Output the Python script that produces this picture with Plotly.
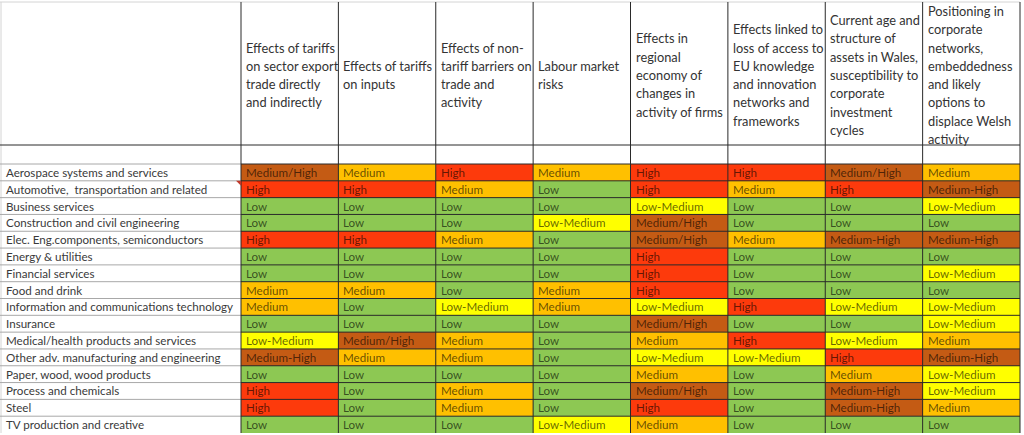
import plotly.graph_objects as go

# ---------------- data ----------------
headers = [
    "Effects of tariffs<br>on sector export<br>trade directly<br>and indirectly",
    "Effects of tariffs<br>on inputs",
    "Effects of non-<br>tariff barriers on<br>trade and<br>activity",
    "Labour market<br>risks",
    "Effects in<br>regional<br>economy of<br>changes in<br>activity of firms",
    "Effects linked to<br>loss of access to<br>EU knowledge<br>and innovation<br>networks and<br>frameworks",
    "Current age and<br>structure of<br>assets in Wales,<br>susceptibility to<br>corporate<br>investment<br>cycles",
    "Positioning in<br>corporate<br>networks,<br>embeddedness<br>and likely<br>options to<br>displace Welsh<br>activity",
]

sectors = [
    "Aerospace systems and services",
    "Automotive,\u00a0 transportation and related",
    "Business services",
    "Construction and civil engineering",
    "Elec. Eng.components, semiconductors",
    "Energy & utilities",
    "Financial services",
    "Food and drink",
    "Information and communications technology",
    "Insurance",
    "Medical/health products and services",
    "Other adv. manufacturing and engineering",
    "Paper, wood, wood products",
    "Process and chemicals",
    "Steel",
    "TV production and creative",
]

tariffs_export = ["Medium/High", "High", "Low", "Low", "High", "Low", "Low", "Medium",
                  "Medium", "Low", "Low-Medium", "Medium-High", "Low", "High", "High", "Low"]
tariffs_inputs = ["Medium", "High", "Low", "Low", "High", "Low", "Low", "Medium",
                  "Low", "Low", "Medium/High", "Medium", "Low", "Low", "Low", "Low"]
non_tariff = ["High", "Medium", "Low", "Low", "Medium", "Low", "Low", "Low",
              "Low-Medium", "Low", "Medium", "Medium", "Low", "Medium", "Medium", "Low"]
labour = ["Medium", "Low", "Low", "Low-Medium", "Low", "Low", "Low", "Medium",
          "Medium", "Low", "Low", "Low", "Low", "Low", "Low", "Low-Medium"]
regional = ["High", "High", "Low-Medium", "Medium/High", "Medium/High", "High", "High", "High",
            "Low-Medium", "Medium/High", "Medium", "Low-Medium", "Medium", "Medium/High", "High", "Medium"]
eu_knowledge = ["High", "Medium", "Low", "Low", "Medium", "Low", "Low", "Low",
                "High", "Low", "High", "Low-Medium", "Low", "Low", "Low", "Low"]
assets = ["Medium/High", "High", "Low", "Low", "Medium-High", "Low", "Low", "Low",
          "Low-Medium", "Low", "Low-Medium", "High", "Medium", "Medium-High", "Medium-High", "Low"]
positioning = ["Medium", "Medium-High", "Low-Medium", "Low", "Medium-High", "Low", "Low-Medium", "Low",
               "Low-Medium", "Low-Medium", "Medium", "Medium-High", "Low-Medium", "Low-Medium", "Medium", "Low"]

ratings = [tariffs_export, tariffs_inputs, non_tariff, labour, regional, eu_knowledge, assets, positioning]

level_of = {"Low": 0, "Low-Medium": 1, "Medium": 2, "Medium/High": 3, "Medium-High": 3, "High": 4}
level_colors = ["#8DC853", "#FFFF00", "#FFC000", "#C45B14", "#FD3A0C"]

# ---------------- layout constants ----------------
W, H = 1024, 435
LABEL_W = 241
RIGHT = 4
HEADER_H = 145
BLANK_H = 19
TOP = HEADER_H + BLANK_H
BOTTOM = 2
PW = W - LABEL_W - RIGHT
PH = H - TOP - BOTTOM
FONT = "Lato, Carlito, Calibri, sans-serif"
DARK = "#2a2a2a"
GRAY = "#a8a8a8"
LIGHT = "#d4d4d4"

nrows, ncols = len(sectors), len(headers)


def py(p):  # pixel y -> paper y
    return (H - BOTTOM - p) / PH


def pxx(p):  # pixel x -> paper x
    return (p - LABEL_W) / PW


z = [[level_of[ratings[j][i]] for j in range(ncols)] for i in range(nrows)]
n = len(level_colors)
colorscale = [[k / (n - 1), c] for k, c in enumerate(level_colors)]

fig = go.Figure(go.Heatmap(
    z=z, x=list(range(ncols)), y=list(range(nrows)),
    colorscale=colorscale, zmin=0, zmax=n - 1, showscale=False,
    hoverinfo="skip", xgap=0, ygap=0,
))

annotations = []
# header text, one annotation per line for Excel-like line spacing
LINE_GAP = 18.3
HEAD_CENTER = 75
for j, htxt in enumerate(headers):
    lines = htxt.split("<br>")
    m = len(lines)
    for k, line in enumerate(lines):
        ypx = HEAD_CENTER - (m - 1) / 2 * LINE_GAP + k * LINE_GAP
        annotations.append(dict(
            text=line, xref="x", x=j - 0.5, xshift=3, xanchor="left",
            yref="paper", y=py(ypx), yanchor="middle", showarrow=False,
            font=dict(family=FONT, size=12.8, color="#333333"), align="left",
        ))

# row labels
for i, s in enumerate(sectors):
    annotations.append(dict(
        text=s, xref="paper", x=pxx(0), xshift=4, xanchor="left",
        yref="y", y=i, yanchor="middle", showarrow=False,
        font=dict(family=FONT, size=11.6, color="#3a3a3a"),
    ))

# cell text
for j in range(ncols):
    for i in range(nrows):
        annotations.append(dict(
            text=ratings[j][i], xref="x", x=j - 0.5, xshift=3, xanchor="left",
            yref="y", y=i, yanchor="middle", showarrow=False,
            font=dict(family=FONT, size=11.6, color="rgba(0,0,0,0.62)"),
        ))

shapes = []
# light outer border (top and left)
shapes.append(dict(type="line", xref="paper", yref="paper", x0=pxx(0), x1=1, y0=py(2), y1=py(2),
                   line=dict(color=LIGHT, width=1)))
shapes.append(dict(type="line", xref="paper", yref="paper", x0=pxx(1), x1=pxx(1), y0=0, y1=py(2),
                   line=dict(color=LIGHT, width=1)))
# horizontal lines in the label column
for i in range(nrows):
    yv = 1 - i / nrows
    shapes.append(dict(type="line", xref="paper", yref="paper", x0=pxx(0), x1=0, y0=yv, y1=yv,
                       line=dict(color=GRAY, width=1)))
# horizontal lines in the data columns
for i in range(nrows):
    yv = 1 - i / nrows
    shapes.append(dict(type="line", xref="paper", yref="paper", x0=0, x1=1, y0=yv, y1=yv,
                       line=dict(color=DARK, width=1)))
# header bottom line
shapes.append(dict(type="line", xref="paper", yref="paper", x0=pxx(0), x1=1,
                   y0=py(HEADER_H), y1=py(HEADER_H), line=dict(color=DARK, width=1)))
# vertical column lines
for j in range(ncols + 1):
    xv = j / ncols
    shapes.append(dict(type="line", xref="paper", yref="paper", x0=xv, x1=xv, y0=0, y1=py(2),
                       line=dict(color=DARK, width=1)))

# small red comment marker in the top-right corner of the "Automotive" label cell
row_top = 1 - 1 / nrows
tri_h = 5 / PH
tri_w = 5 / PW
shapes.append(dict(
    type="path", xref="paper", yref="paper",
    path=f"M {-tri_w} {row_top} L 0 {row_top} L 0 {row_top - tri_h} Z",
    fillcolor="#C0392B", line=dict(width=0),
))

fig.update_layout(
    width=W, height=H,
    margin=dict(l=LABEL_W, r=RIGHT, t=TOP, b=BOTTOM, pad=0),
    paper_bgcolor="white", plot_bgcolor="white",
    xaxis=dict(range=[-0.5, ncols - 0.5], visible=False, fixedrange=True),
    yaxis=dict(range=[nrows - 0.5, -0.5], visible=False, fixedrange=True),
    annotations=annotations, shapes=shapes,
    showlegend=False,
)

fig.write_html(
    "out.html",
    config={"displayModeBar": False},
    post_script="document.body.style.margin='0px';document.body.style.overflow='hidden';",
)
